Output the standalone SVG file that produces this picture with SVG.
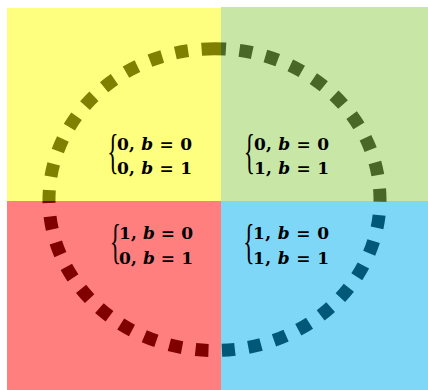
<svg xmlns="http://www.w3.org/2000/svg" width="428" height="390" viewBox="0 0 428 390">
  <style>
    .q { fill-opacity: 0.5; stroke: none; }
    .ring { fill: none; stroke: #000; stroke-width: 13; stroke-dasharray: 13 13.58; stroke-dashoffset: 1.5; }
    .eq { font-family: "DejaVu Serif", "Liberation Serif", serif; font-weight: bold; font-size: 17px; fill: #000; }
    .v { font-style: italic; }
    .br { font-family: "Liberation Serif", "Times New Roman", serif; font-size: 26px; fill: #000; }
  </style>
  <rect width="428" height="390" fill="#fff"/>
  <g id="ring">
    <path class="ring" pathLength="994.9" d="M214.5 48.7 A165.5 150.9 0 1 1 214.5 350.5 A165.5 150.9 0 1 1 214.5 48.7"/>
  </g>
  <g id="q-top-left">
    <rect class="q" x="7" y="8" width="214" height="193" fill="#FFFF00"/>
    <g transform="translate(109.5 177) scale(0.9 1.85)"><text class="br" x="-2.6" y="-4.7">{</text></g>
    <text class="eq" x="117" y="149.5" textLength="75" lengthAdjust="spacing">0, <tspan class="v">b</tspan> = 0</text>
    <text class="eq" x="117" y="174" textLength="75" lengthAdjust="spacing">0, <tspan class="v">b</tspan> = 1</text>
  </g>
  <g id="q-top-right">
    <rect class="q" x="221" y="7" width="207" height="194" fill="#92D050"/>
    <g transform="translate(246 177) scale(0.9 1.85)"><text class="br" x="-2.6" y="-4.7">{</text></g>
    <text class="eq" x="254" y="149.5" textLength="75" lengthAdjust="spacing">0, <tspan class="v">b</tspan> = 0</text>
    <text class="eq" x="254" y="174" textLength="75" lengthAdjust="spacing">1, <tspan class="v">b</tspan> = 1</text>
  </g>
  <g id="q-bottom-left">
    <rect class="q" x="7" y="201" width="214" height="189" fill="#FF0000"/>
    <g transform="translate(112 266.5) scale(0.9 1.85)"><text class="br" x="-2.6" y="-4.7">{</text></g>
    <text class="eq" x="119" y="239" textLength="74" lengthAdjust="spacing">1, <tspan class="v">b</tspan> = 0</text>
    <text class="eq" x="119" y="263.5" textLength="74" lengthAdjust="spacing">0, <tspan class="v">b</tspan> = 1</text>
  </g>
  <g id="q-bottom-right">
    <rect class="q" x="221" y="201" width="207" height="189" fill="#00B0F0"/>
    <g transform="translate(245.5 266.5) scale(0.9 1.85)"><text class="br" x="-2.6" y="-4.7">{</text></g>
    <text class="eq" x="253" y="239" textLength="76" lengthAdjust="spacing">1, <tspan class="v">b</tspan> = 0</text>
    <text class="eq" x="253" y="263.5" textLength="76" lengthAdjust="spacing">1, <tspan class="v">b</tspan> = 1</text>
  </g>
</svg>
